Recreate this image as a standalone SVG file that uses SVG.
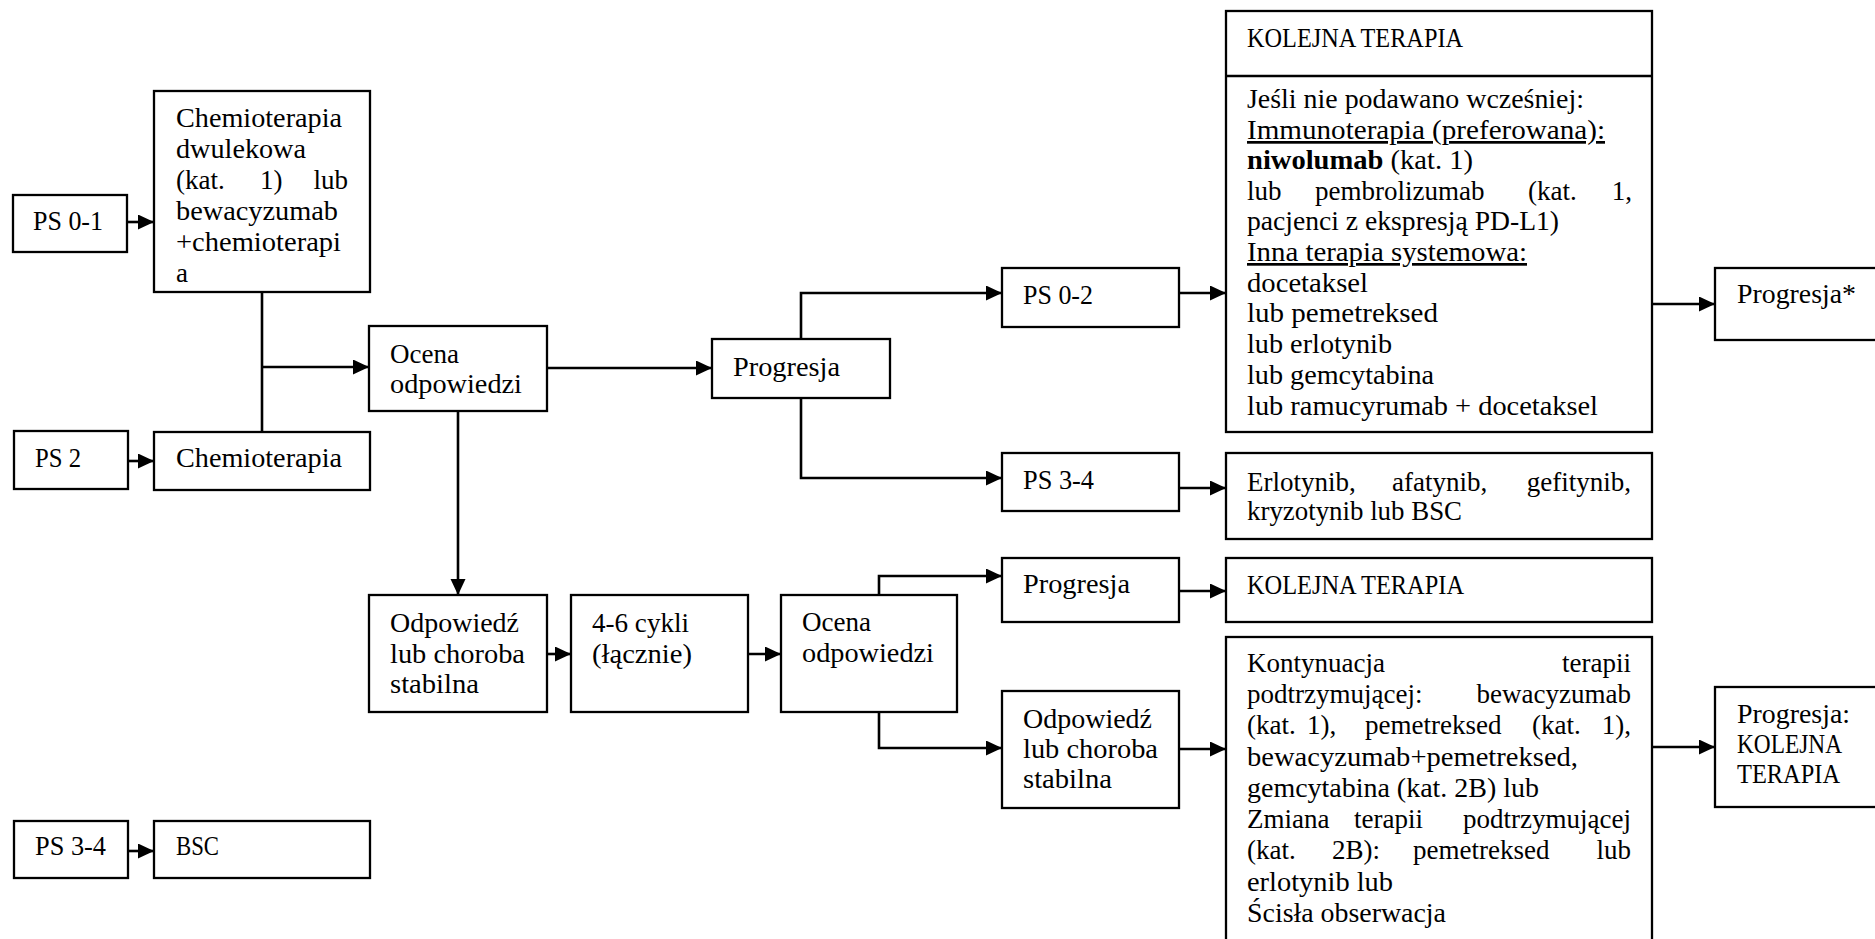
<svg xmlns="http://www.w3.org/2000/svg" width="1875" height="939" viewBox="0 0 1875 939">
<style>
.b{fill:#fff;stroke:#000;stroke-width:2.3}
.t{font-family:"Liberation Serif","Times New Roman",serif;font-size:27px;fill:#000}
.bd{font-weight:bold}
.u{text-decoration:underline}
.c{fill:none;stroke:#000;stroke-width:2.6}
</style>
<defs>
<marker id="ah" markerUnits="userSpaceOnUse" markerWidth="17" markerHeight="16" refX="16" refY="7.5" orient="auto">
<path d="M0,0 L16,7.5 L0,15 z" fill="#000"/>
</marker>
</defs>
<rect width="1875" height="939" fill="#fff"/>

<g id="connectors">
<path class="c" d="M127,222 H154" marker-end="url(#ah)"/>
<path class="c" d="M128,461 H154" marker-end="url(#ah)"/>
<path class="c" d="M128,851 H154" marker-end="url(#ah)"/>
<path class="c" d="M262,292 V432"/>
<path class="c" d="M262,367 H369" marker-end="url(#ah)"/>
<path class="c" d="M547,368 H712" marker-end="url(#ah)"/>
<path class="c" d="M458,411 V595" marker-end="url(#ah)"/>
<path class="c" d="M547,654 H571" marker-end="url(#ah)"/>
<path class="c" d="M748,654 H781" marker-end="url(#ah)"/>
<path class="c" d="M801,339 V293 H1002" marker-end="url(#ah)"/>
<path class="c" d="M801,398 V478 H1002" marker-end="url(#ah)"/>
<path class="c" d="M1179,293 H1226" marker-end="url(#ah)"/>
<path class="c" d="M1179,488 H1226" marker-end="url(#ah)"/>
<path class="c" d="M1652,304 H1715" marker-end="url(#ah)"/>
<path class="c" d="M879,595 V576 H1002" marker-end="url(#ah)"/>
<path class="c" d="M879,712 V748 H1002" marker-end="url(#ah)"/>
<path class="c" d="M1179,591 H1226" marker-end="url(#ah)"/>
<path class="c" d="M1179,749 H1226" marker-end="url(#ah)"/>
<path class="c" d="M1652,747 H1715" marker-end="url(#ah)"/>
</g>

<g id="ps01">
<rect class="b" x="13" y="195" width="114" height="57"/>
<text class="t" x="33" y="230" textLength="70" lengthAdjust="spacingAndGlyphs">PS 0-1</text>
</g>
<g id="chemo2">
<rect class="b" x="154" y="91" width="216" height="201"/>
<text class="t" x="176" y="127" textLength="166" lengthAdjust="spacingAndGlyphs">Chemioterapia</text>
<text class="t" x="176" y="158" textLength="130" lengthAdjust="spacingAndGlyphs">dwulekowa</text>
<text class="t" x="176" y="189">(kat.</text>
<text class="t" x="260" y="189">1)</text>
<text class="t" x="348" y="189" text-anchor="end">lub</text>
<text class="t" x="176" y="220" textLength="162" lengthAdjust="spacingAndGlyphs">bewacyzumab</text>
<text class="t" x="176" y="251" textLength="165" lengthAdjust="spacingAndGlyphs">+chemioterapi</text>
<text class="t" x="176" y="282">a</text>
</g>
<g id="ps2">
<rect class="b" x="14" y="431" width="114" height="58"/>
<text class="t" x="35" y="467" textLength="46" lengthAdjust="spacingAndGlyphs">PS 2</text>
</g>
<g id="chemo">
<rect class="b" x="154" y="432" width="216" height="58"/>
<text class="t" x="176" y="467" textLength="166" lengthAdjust="spacingAndGlyphs">Chemioterapia</text>
</g>
<g id="ps34a">
<rect class="b" x="14" y="821" width="114" height="57"/>
<text class="t" x="35" y="855" textLength="71" lengthAdjust="spacingAndGlyphs">PS 3-4</text>
</g>
<g id="bsc">
<rect class="b" x="154" y="821" width="216" height="57"/>
<text class="t" x="176" y="855" textLength="43" lengthAdjust="spacingAndGlyphs">BSC</text>
</g>
<g id="ocena1">
<rect class="b" x="369" y="326" width="178" height="85"/>
<text class="t" x="390" y="363" textLength="69" lengthAdjust="spacingAndGlyphs">Ocena</text>
<text class="t" x="390" y="393" textLength="132" lengthAdjust="spacingAndGlyphs">odpowiedzi</text>
</g>
<g id="odp1">
<rect class="b" x="369" y="595" width="178" height="117"/>
<text class="t" x="390" y="632" textLength="129" lengthAdjust="spacingAndGlyphs">Odpowiedź</text>
<text class="t" x="390" y="663" textLength="135" lengthAdjust="spacingAndGlyphs">lub choroba</text>
<text class="t" x="390" y="693" textLength="89" lengthAdjust="spacingAndGlyphs">stabilna</text>
</g>
<g id="cykle">
<rect class="b" x="571" y="595" width="177" height="117"/>
<text class="t" x="592" y="632" textLength="97" lengthAdjust="spacingAndGlyphs">4-6 cykli</text>
<text class="t" x="592" y="663" textLength="100" lengthAdjust="spacingAndGlyphs">(łącznie)</text>
</g>
<g id="ocena2">
<rect class="b" x="781" y="595" width="176" height="117"/>
<text class="t" x="802" y="631" textLength="69" lengthAdjust="spacingAndGlyphs">Ocena</text>
<text class="t" x="802" y="662" textLength="132" lengthAdjust="spacingAndGlyphs">odpowiedzi</text>
</g>
<g id="progresja1">
<rect class="b" x="712" y="339" width="178" height="59"/>
<text class="t" x="733" y="376" textLength="107" lengthAdjust="spacingAndGlyphs">Progresja</text>
</g>
<g id="ps02">
<rect class="b" x="1002" y="268" width="177" height="59"/>
<text class="t" x="1023" y="304" textLength="70" lengthAdjust="spacingAndGlyphs">PS 0-2</text>
</g>
<g id="ps34b">
<rect class="b" x="1002" y="453" width="177" height="58"/>
<text class="t" x="1023" y="489" textLength="71" lengthAdjust="spacingAndGlyphs">PS 3-4</text>
</g>
<g id="progresja2">
<rect class="b" x="1002" y="558" width="177" height="64"/>
<text class="t" x="1023" y="593" textLength="107" lengthAdjust="spacingAndGlyphs">Progresja</text>
</g>
<g id="odp2">
<rect class="b" x="1002" y="691" width="177" height="117"/>
<text class="t" x="1023" y="728" textLength="129" lengthAdjust="spacingAndGlyphs">Odpowiedź</text>
<text class="t" x="1023" y="758" textLength="135" lengthAdjust="spacingAndGlyphs">lub choroba</text>
<text class="t" x="1023" y="788" textLength="89" lengthAdjust="spacingAndGlyphs">stabilna</text>
</g>
<g id="kolejna1">
<rect class="b" x="1226" y="11" width="426" height="421"/>
<line x1="1226" y1="76" x2="1652" y2="76" stroke="#000" stroke-width="2.3"/>
<text class="t" x="1247" y="47" textLength="216" lengthAdjust="spacingAndGlyphs">KOLEJNA TERAPIA</text>
<text class="t" x="1247" y="108" textLength="337" lengthAdjust="spacingAndGlyphs">Jeśli nie podawano wcześniej:</text>
<text class="t u" x="1247" y="139" textLength="358" lengthAdjust="spacingAndGlyphs">Immunoterapia (preferowana):</text>
<text class="t" x="1247" y="169" textLength="226" lengthAdjust="spacingAndGlyphs"><tspan class="bd">niwolumab</tspan> (kat. 1)</text>
<text class="t" x="1247" y="200">lub</text>
<text class="t" x="1315" y="200">pembrolizumab</text>
<text class="t" x="1528" y="200">(kat.</text>
<text class="t" x="1632" y="200" text-anchor="end">1,</text>
<text class="t" x="1247" y="230" textLength="312" lengthAdjust="spacingAndGlyphs">pacjenci z ekspresją PD-L1)</text>
<text class="t u" x="1247" y="261" textLength="280" lengthAdjust="spacingAndGlyphs">Inna terapia systemowa:</text>
<text class="t" x="1247" y="292" textLength="121" lengthAdjust="spacingAndGlyphs">docetaksel</text>
<text class="t" x="1247" y="322" textLength="191" lengthAdjust="spacingAndGlyphs">lub pemetreksed</text>
<text class="t" x="1247" y="353" textLength="145" lengthAdjust="spacingAndGlyphs">lub erlotynib</text>
<text class="t" x="1247" y="384" textLength="187" lengthAdjust="spacingAndGlyphs">lub gemcytabina</text>
<text class="t" x="1247" y="415" textLength="351" lengthAdjust="spacingAndGlyphs">lub ramucyrumab + docetaksel</text>
</g>
<g id="erlotynib">
<rect class="b" x="1226" y="453" width="426" height="86"/>
<text class="t" x="1247" y="491">Erlotynib,</text>
<text class="t" x="1392" y="491">afatynib,</text>
<text class="t" x="1631" y="491" text-anchor="end">gefitynib,</text>
<text class="t" x="1247" y="520" textLength="215" lengthAdjust="spacingAndGlyphs">kryzotynib lub BSC</text>
</g>
<g id="kolejna2">
<rect class="b" x="1226" y="558" width="426" height="64"/>
<text class="t" x="1247" y="594" textLength="217" lengthAdjust="spacingAndGlyphs">KOLEJNA TERAPIA</text>
</g>
<g id="kontynuacja">
<rect class="b" x="1226" y="637" width="426" height="320"/>
<text class="t" x="1247" y="672">Kontynuacja</text>
<text class="t" x="1631" y="672" text-anchor="end">terapii</text>
<text class="t" x="1247" y="703">podtrzymującej:</text>
<text class="t" x="1631" y="703" text-anchor="end">bewacyzumab</text>
<text class="t" x="1247" y="734">(kat.</text>
<text class="t" x="1307" y="734">1),</text>
<text class="t" x="1365" y="734">pemetreksed</text>
<text class="t" x="1532" y="734">(kat.</text>
<text class="t" x="1631" y="734" text-anchor="end">1),</text>
<text class="t" x="1247" y="766" textLength="331" lengthAdjust="spacingAndGlyphs">bewacyzumab+pemetreksed,</text>
<text class="t" x="1247" y="797" textLength="292" lengthAdjust="spacingAndGlyphs">gemcytabina (kat. 2B) lub</text>
<text class="t" x="1247" y="828">Zmiana</text>
<text class="t" x="1354" y="828">terapii</text>
<text class="t" x="1631" y="828" text-anchor="end">podtrzymującej</text>
<text class="t" x="1247" y="859">(kat.</text>
<text class="t" x="1332" y="859">2B):</text>
<text class="t" x="1413" y="859">pemetreksed</text>
<text class="t" x="1631" y="859" text-anchor="end">lub</text>
<text class="t" x="1247" y="891" textLength="146" lengthAdjust="spacingAndGlyphs">erlotynib lub</text>
<text class="t" x="1247" y="922" textLength="199" lengthAdjust="spacingAndGlyphs">Ścisła obserwacja</text>
</g>
<g id="progresja3">
<rect class="b" x="1715" y="268" width="180" height="72"/>
<text class="t" x="1737" y="303" textLength="119" lengthAdjust="spacingAndGlyphs">Progresja*</text>
</g>
<g id="progresja4">
<rect class="b" x="1715" y="687" width="180" height="120"/>
<text class="t" x="1737" y="723" textLength="113" lengthAdjust="spacingAndGlyphs">Progresja:</text>
<text class="t" x="1737" y="753" textLength="105" lengthAdjust="spacingAndGlyphs">KOLEJNA</text>
<text class="t" x="1737" y="783" textLength="103" lengthAdjust="spacingAndGlyphs">TERAPIA</text>
</g>
</svg>
